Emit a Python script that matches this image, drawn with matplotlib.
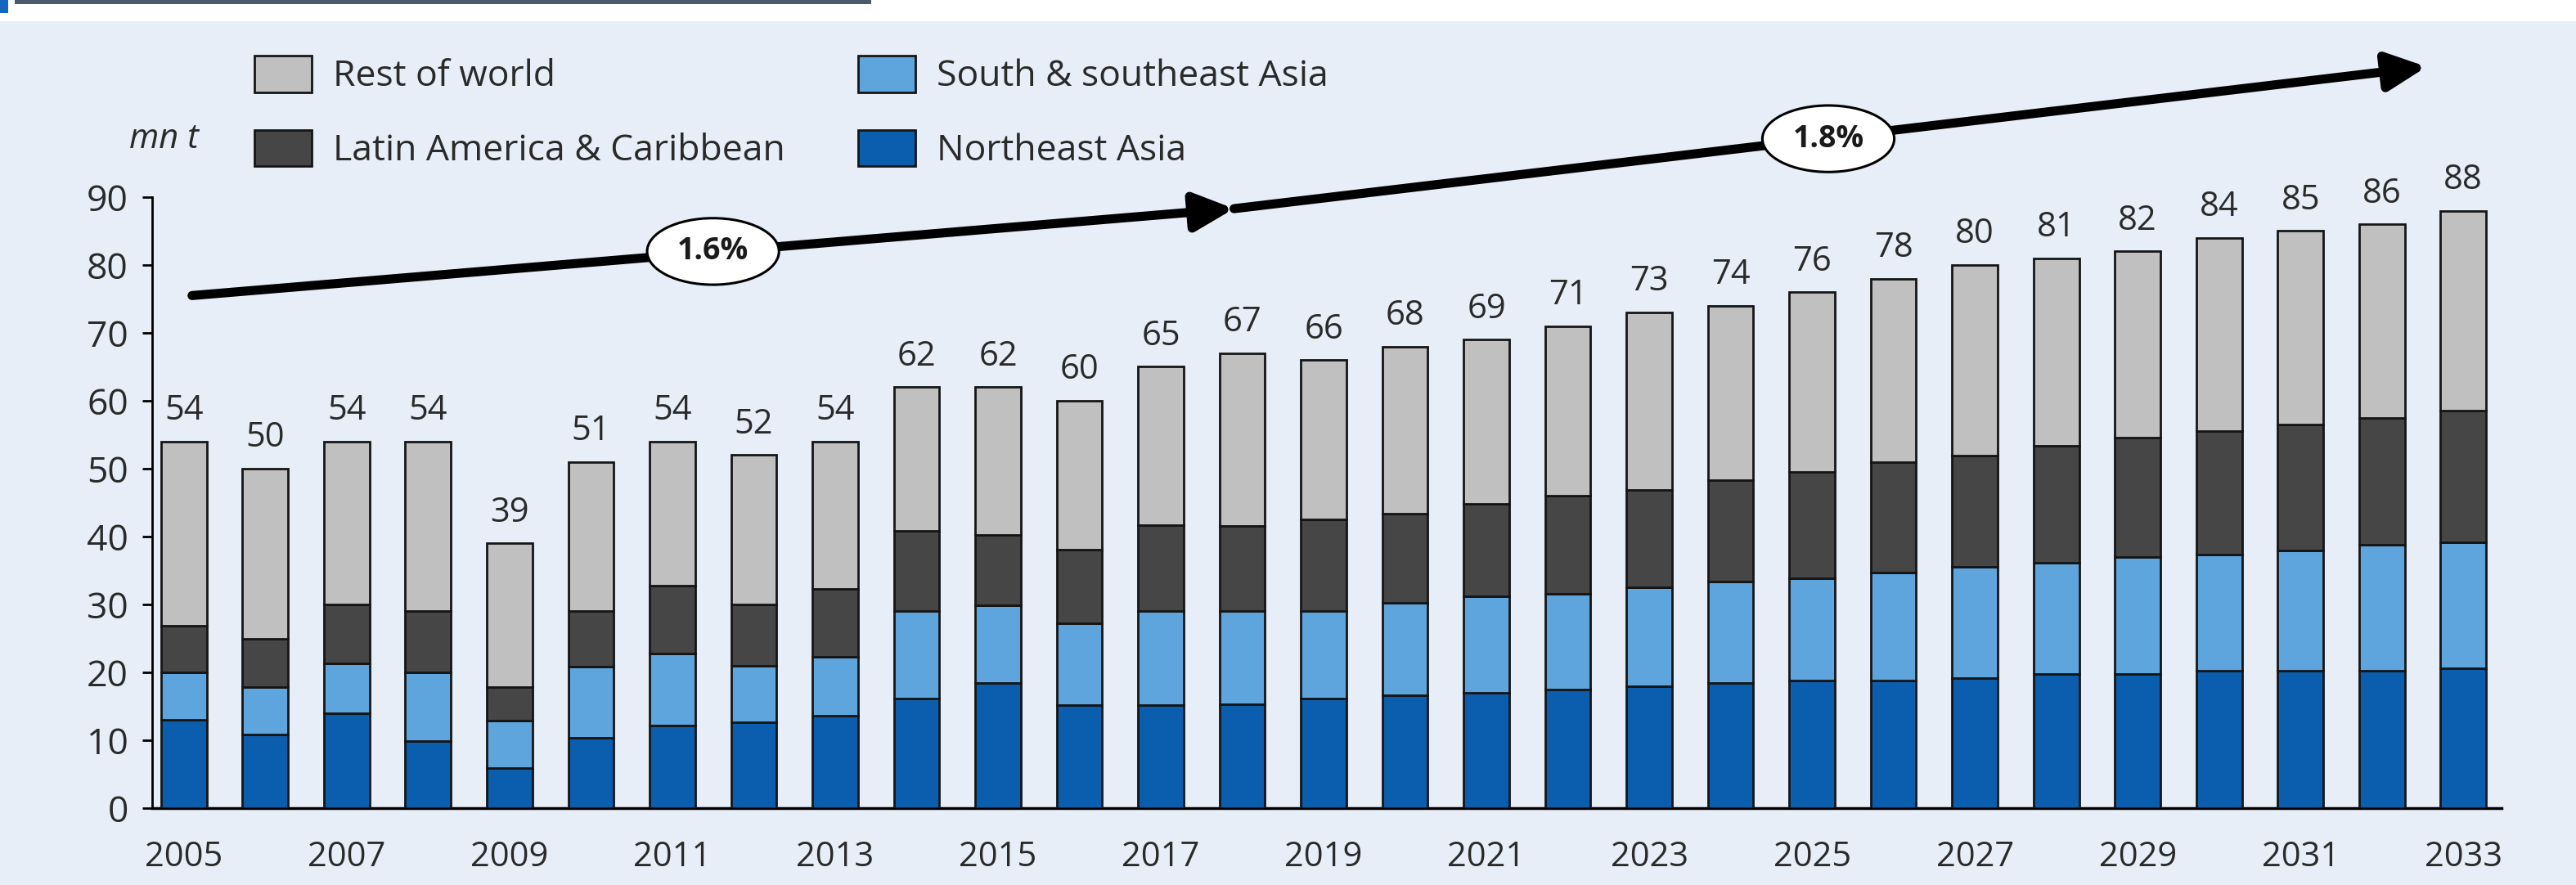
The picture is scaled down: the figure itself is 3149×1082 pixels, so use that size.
import matplotlib
matplotlib.use("Agg")
import matplotlib.pyplot as plt
from matplotlib.patches import Ellipse, Rectangle

plt.rcParams['font.family'] = ['Open Sans', 'DejaVu Sans']

years = list(range(2005, 2034))
# cumulative tops (mn t)
northeast = [13.0, 10.8, 14.0, 9.9, 5.9, 10.4, 12.2, 12.6, 13.6, 16.1, 18.4, 15.2, 15.2, 15.3,
             16.2, 16.6, 17.0, 17.5, 17.9, 18.4, 18.8, 18.8, 19.1, 19.8, 19.8, 20.2, 20.2, 20.2, 20.6]
south_top = [20.0, 17.8, 21.3, 20.0, 12.9, 20.8, 22.8, 21.0, 22.3, 29.0, 29.9, 27.2, 29.0, 29.0,
             29.0, 30.3, 31.2, 31.6, 32.5, 33.4, 33.9, 34.7, 35.6, 36.1, 37.0, 37.4, 38.0, 38.8, 39.2]
latam_top = [26.9, 25.0, 30.0, 29.0, 17.8, 29.0, 32.8, 30.0, 32.3, 40.8, 40.3, 38.1, 41.7, 41.6,
             42.5, 43.4, 44.8, 46.0, 46.9, 48.3, 49.5, 51.0, 51.9, 53.4, 54.6, 55.6, 56.5, 57.5, 58.5]
totals = [54, 50, 54, 54, 39, 51, 54, 52, 54, 62, 62, 60, 65, 67,
          66, 68, 69, 71, 73, 74, 76, 78, 80, 81, 82, 84, 85, 86, 88]

colors = {'Northeast Asia': '#0b5dae', 'South & southeast Asia': '#5ea4dd',
          'Latin America & Caribbean': '#464646', 'Rest of world': '#c0c0c0'}

# growth arrows: (start year, start value, end year, end value, label, label x, label y)
arrow_segments = [(2005.1, 75.5, 2017.9, 88.3, '1.6%', 2011.5, 82.0),
                  (2017.9, 88.3, 2032.55, 109.2, '1.8%', 2025.2, 98.6)]

south = [s - n for s, n in zip(south_top, northeast)]
latam = [l - s for l, s in zip(latam_top, south_top)]
rest = [t - l for t, l in zip(totals, latam_top)]

bg = '#e7eef8'
fig = plt.figure(figsize=(31.49, 10.82), dpi=100, facecolor=bg)
W, H = 3149, 1082
ax = fig.add_axes([186 / W, (H - 988) / H, (3058 - 186) / W, (988 - 241) / H])
ax.set_facecolor(bg)

# header strip
fig.patches.append(Rectangle((0, 1 - 26 / H), 1, 26 / H, transform=fig.transFigure,
                             facecolor='white', edgecolor='none', zorder=0))
fig.patches.append(Rectangle((18 / W, 1 - 5 / H), (1065 - 18) / W, 5 / H, transform=fig.transFigure,
                             facecolor='#4b5a6c', edgecolor='none', zorder=1))
fig.patches.append(Rectangle((0, 1 - 16 / H), 10 / W, 16 / H, transform=fig.transFigure,
                             facecolor='#1466bf', edgecolor='none', zorder=1))

w = 0.56
kw = dict(width=w, edgecolor='#151515', linewidth=2.0, zorder=3)
b_ne = ax.bar(years, northeast, color=colors['Northeast Asia'], label='Northeast Asia', **kw)
b_se = ax.bar(years, south, bottom=northeast, color=colors['South & southeast Asia'],
              label='South & southeast Asia', **kw)
b_la = ax.bar(years, latam, bottom=south_top, color=colors['Latin America & Caribbean'],
              label='Latin America & Caribbean', **kw)
b_rw = ax.bar(years, rest, bottom=latam_top, color=colors['Rest of world'], label='Rest of world', **kw)

ax.bar_label(b_rw, labels=[str(t) for t in totals], padding=12, fontsize=30, color='#2a2a2a')

for x0, y0, x1, y1, txt, lx, ly in arrow_segments:
    ax.annotate('', xy=(x1, y1), xytext=(x0, y0), annotation_clip=False,
                arrowprops=dict(arrowstyle='-|>,head_length=1.45,head_width=0.7', lw=8,
                                color='black', mutation_scale=20, shrinkA=0, shrinkB=0))
    ax.add_patch(Ellipse((lx, ly), 1.62, 9.8, facecolor='white', edgecolor='black',
                         linewidth=2.2, zorder=5, clip_on=False))
    ax.text(lx, ly, txt, ha='center', va='center', fontsize=27, fontweight='bold',
            color='#1a1a1a', zorder=6, clip_on=False)

ax.set_xlim(2004.61, 2033.47)
ax.set_ylim(0, 90)
ax.set_yticks(range(0, 91, 10))
ax.set_xticks(years[::2])
ax.spines['top'].set_visible(False)
ax.spines['right'].set_visible(False)
ax.spines['left'].set_linewidth(2)
ax.spines['bottom'].set_linewidth(2.5)
ax.tick_params(axis='y', direction='out', length=9, width=2, pad=12, labelsize=32, labelcolor='#2a2a2a')
ax.tick_params(axis='x', length=0, pad=28, labelsize=30, labelcolor='#2a2a2a')

fig.text(200 / W, 1 - 170 / H, 'mn t', ha='center', va='center', fontsize=30,
         style='italic', color='#2a2a2a')

handles = [b_rw, b_la, b_se, b_ne]
fs_px = 32 * 100 / 72
ax.legend(handles, [h.get_label() for h in handles], ncol=2, loc='upper left',
          bbox_to_anchor=(311 / W, 1 - 68 / H), bbox_transform=fig.transFigure,
          frameon=False, fontsize=32, borderpad=0, borderaxespad=0,
          handlelength=70 / fs_px, handleheight=52 / fs_px, handletextpad=26 / fs_px,
          labelspacing=0.95, columnspacing=2.0, labelcolor='#2a2a2a')

fig.savefig('out.png', dpi=100, facecolor=bg)
